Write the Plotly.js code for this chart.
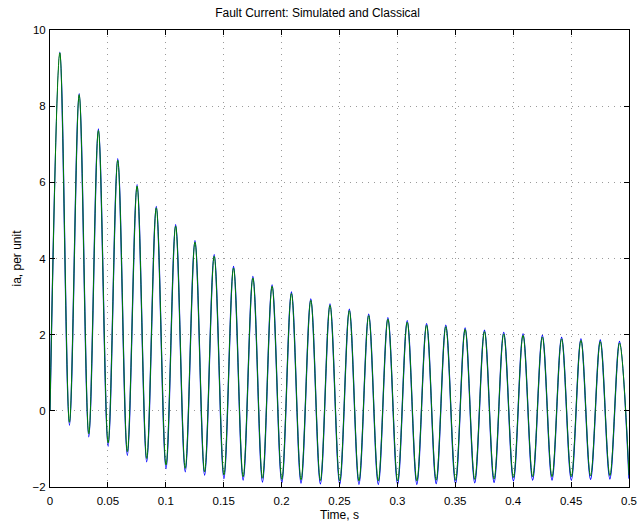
<!DOCTYPE html>
<html>
<head>
<meta charset="utf-8">
<script src="https://cdn.plot.ly/plotly-3.0.1.min.js"></script>
<style>html,body{margin:0;padding:0;background:#fff;}#chart{width:639px;height:527px;}</style>
</head>
<body>
<div id="chart"></div>
<script>
// Times of the curve's turning points (s)
var extremumTime = [0, 0.0085, 0.0168, 0.0252, 0.0335, 0.0418, 0.0502, 0.0585, 0.0668, 0.0752, 0.0835,
  0.0918, 0.1002, 0.1085, 0.1168, 0.1252, 0.1335, 0.1418, 0.1502, 0.1585, 0.1668, 0.1752, 0.1835,
  0.1918, 0.2002, 0.2085, 0.2168, 0.2252, 0.2335, 0.2418, 0.2502, 0.2585, 0.2668, 0.2752, 0.2835,
  0.2918, 0.3002, 0.3085, 0.3168, 0.3252, 0.3335, 0.3418, 0.3502, 0.3585, 0.3668, 0.3752, 0.3835,
  0.3918, 0.4002, 0.4085, 0.4168, 0.4252, 0.4335, 0.4418, 0.4502, 0.4585, 0.4668, 0.4752, 0.4835,
  0.4918, 0.5];
// Simulated current (per unit) at those points
var simulated = [0, 9.42, -0.38, 8.33, -0.68, 7.40, -0.93, 6.62, -1.17, 5.94, -1.34, 5.37, -1.52,
  4.89, -1.60, 4.47, -1.69, 4.10, -1.78, 3.79, -1.82, 3.53, -1.87, 3.31, -1.89, 3.12, -1.90, 2.94,
  -1.92, 2.81, -1.93, 2.67, -1.93, 2.54, -1.93, 2.45, -1.93, 2.37, -1.93, 2.29, -1.91, 2.25, -1.91,
  2.18, -1.89, 2.12, -1.88, 2.06, -1.84, 2.02, -1.82, 1.98, -1.82, 1.93, -1.82, 1.89, -1.80, 1.86,
  -1.79, 1.82, -1.78];
// Classical current (per unit) at those points
var classical = [0, 9.40, -0.30, 8.30, -0.60, 7.36, -0.84, 6.58, -1.07, 5.90, -1.25, 5.33, -1.42,
  4.85, -1.51, 4.43, -1.60, 4.06, -1.68, 3.75, -1.73, 3.49, -1.77, 3.27, -1.80, 3.08, -1.81, 2.90,
  -1.83, 2.77, -1.84, 2.63, -1.84, 2.50, -1.84, 2.41, -1.84, 2.33, -1.84, 2.25, -1.82, 2.21, -1.82,
  2.14, -1.80, 2.08, -1.79, 2.02, -1.75, 1.98, -1.73, 1.94, -1.73, 1.89, -1.73, 1.85, -1.71, 1.82,
  -1.70, 1.78, -1.69];
var xTicks = [0, 0.05, 0.1, 0.15, 0.2, 0.25, 0.3, 0.35, 0.4, 0.45, 0.5];
var xTickText = ['0', '0.05', '0.1', '0.15', '0.2', '0.25', '0.3', '0.35', '0.4', '0.45', '0.5'];
var yTicks = [-2, 0, 2, 4, 6, 8, 10];

var family = 'Liberation Sans, Arial, Helvetica, sans-serif';
var tickFont = {family: family, size: 11.5, color: '#000'};
var titleFont = {family: family, size: 12, color: '#000'};
var traces = [
  {x: extremumTime, y: simulated, type: 'scatter', mode: 'lines', name: 'Simulated',
   line: {color: '#0000ff', width: 1.3, shape: 'spline', smoothing: 1}},
  {x: extremumTime, y: classical, type: 'scatter', mode: 'lines', name: 'Classical',
   line: {color: '#008000', width: 1, shape: 'spline', smoothing: 1}}
];
var axisCommon = {
  showline: true, linecolor: '#000', linewidth: 1, mirror: 'ticks',
  ticks: 'inside', ticklen: 5, tickcolor: '#000', tickwidth: 1,
  showgrid: true, gridcolor: '#9a9a9a', griddash: '1px,5px', gridwidth: 1,
  zeroline: false, tickfont: tickFont
};
var layout = {
  width: 639, height: 527,
  margin: {l: 50, r: 10, t: 30, b: 40},
  paper_bgcolor: '#fff', plot_bgcolor: '#fff',
  showlegend: false,
  font: tickFont,
  title: {text: 'Fault Current: Simulated and Classical', font: titleFont, x: 0.497, xanchor: 'center', y: 0.975, yanchor: 'middle'},
  xaxis: Object.assign({}, axisCommon, {range: [0, 0.5], tickvals: xTicks, ticktext: xTickText,
    ticklabelstandoff: 3, title: {text: 'Time, s', font: titleFont, standoff: 4}}),
  yaxis: Object.assign({}, axisCommon, {range: [-2, 10], tickvals: yTicks, ticklabelstandoff: 1,
    title: {text: 'ia, per unit', font: titleFont, standoff: 8}})
};
Plotly.newPlot('chart', traces, layout, {displayModeBar: false, staticPlot: true});
</script>
</body>
</html>
